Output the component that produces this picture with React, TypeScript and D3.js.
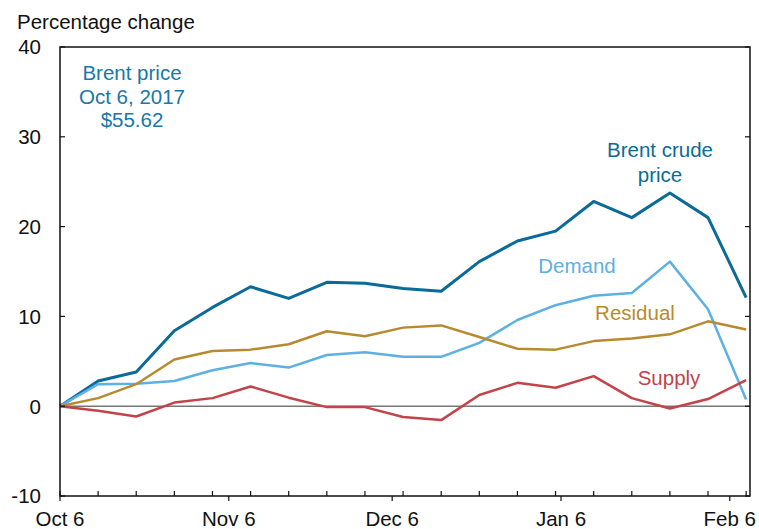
import React from 'react';
import * as d3 from 'd3';

// weekly observations starting Oct 6, 2017
const startDate = new Date(Date.UTC(2017, 9, 6));
const weeks = d3.range(19).map(i => d3.utcDay.offset(startDate, i * 7));

const brent = [0, 2.8, 3.8, 8.4, 11.0, 13.3, 12.0, 13.8, 13.7, 13.1, 12.8, 16.1, 18.4, 19.5, 22.8, 21.0, 23.75, 21.0, 12.1];
const demand = [0, 2.45, 2.5, 2.8, 4.0, 4.8, 4.3, 5.7, 6.0, 5.5, 5.5, 7.05, 9.6, 11.25, 12.3, 12.6, 16.1, 10.8, 0.75];
const residual = [0, 0.9, 2.45, 5.2, 6.15, 6.3, 6.9, 8.35, 7.8, 8.75, 9.0, 7.7, 6.4, 6.3, 7.25, 7.55, 8.0, 9.45, 8.55];
const supply = [0, -0.5, -1.15, 0.4, 0.9, 2.2, 0.95, -0.1, -0.1, -1.2, -1.55, 1.25, 2.6, 2.05, 3.35, 0.9, -0.25, 0.8, 2.9];

const yTicks = [-10, 0, 10, 20, 30, 40];
const monthTicks = [
  { date: new Date(Date.UTC(2017, 9, 6)), label: 'Oct 6' },
  { date: new Date(Date.UTC(2017, 10, 6)), label: 'Nov 6' },
  { date: new Date(Date.UTC(2017, 11, 6)), label: 'Dec 6' },
  { date: new Date(Date.UTC(2018, 0, 6)), label: 'Jan 6' },
  { date: new Date(Date.UTC(2018, 1, 6)), label: 'Feb 6' },
];

const series = [
  { name: 'Brent', values: brent, color: '#0b6b98', width: 3 },
  { name: 'Demand', values: demand, color: '#5cb0e4', width: 2.5 },
  { name: 'Residual', values: residual, color: '#b88a30', width: 2.5 },
  { name: 'Supply', values: supply, color: '#c2434a', width: 2.5 },
];

const W = 759;
const H = 529;
const margin = { top: 47, right: 9, bottom: 33, left: 60 };
const font = 'Liberation Sans, Arial, sans-serif';
const fs = 20.5;

export default function App() {
  const x = d3.scaleUtc()
    .domain([startDate, new Date(Date.UTC(2018, 1, 9, 17))])
    .range([margin.left, W - margin.right]);
  const y = d3.scaleLinear()
    .domain([-10, 40])
    .range([H - margin.bottom, margin.top]);

  const line = d3.line<number>()
    .x((_, i) => x(weeks[i]))
    .y(d => y(d));

  const x0 = margin.left;
  const x1 = W - margin.right;
  const y0 = H - margin.bottom;
  const y1 = margin.top;

  return (
    <svg width={W} height={H} style={{ position: 'absolute', left: 0, top: 0, background: '#fff' }}
      fontFamily={font} fontSize={fs}>
      <text x={17} y={29} fill="#111">Percentage change</text>

      {/* zero line */}
      <line x1={x0} x2={x1} y1={y(0)} y2={y(0)} stroke="#777" strokeWidth={1.5} />

      {series.map(s => (
        <path key={s.name} d={line(s.values) || ''} fill="none" stroke={s.color}
          strokeWidth={s.width} strokeLinejoin="round" />
      ))}

      {/* frame */}
      <rect x={x0} y={y1} width={x1 - x0} height={y0 - y1} fill="none" stroke="#111" strokeWidth={1.5} />

      {/* y ticks */}
      {yTicks.map(t => (
        <g key={t}>
          <line x1={x0} x2={x0 + 5} y1={y(t)} y2={y(t)} stroke="#111" strokeWidth={1.2} />
          <line x1={x1 - 5} x2={x1} y1={y(t)} y2={y(t)} stroke="#111" strokeWidth={1.2} />
          <text x={41} y={y(t)} dy="0.36em" textAnchor="end" fill="#111">{t}</text>
        </g>
      ))}

      {/* weekly ticks, inward */}
      {weeks.map((d, i) => (
        <line key={i} x1={x(d)} x2={x(d)} y1={y0} y2={y0 - 5} stroke="#111" strokeWidth={1.2} />
      ))}

      {/* monthly ticks, outward */}
      {monthTicks.map(m => (
        <g key={m.label}>
          <line x1={x(m.date)} x2={x(m.date)} y1={y0} y2={y0 + 5} stroke="#111" strokeWidth={1.2} />
          <text x={x(m.date)} y={526} textAnchor="middle" fill="#111">{m.label}</text>
        </g>
      ))}

      {/* annotations */}
      <g fill="#1878a8" textAnchor="middle">
        <text x={132} y={80}>Brent price</text>
        <text x={132} y={104}>Oct 6, 2017</text>
        <text x={132} y={127}>$55.62</text>
      </g>
      <g fill="#0b6b98" textAnchor="middle">
        <text x={660} y={157}>Brent crude</text>
        <text x={660} y={182}>price</text>
      </g>
      <text x={577} y={273} textAnchor="middle" fill="#5cb0e4">Demand</text>
      <text x={635} y={320} textAnchor="middle" fill="#b88a30">Residual</text>
      <text x={669} y={385} textAnchor="middle" fill="#c2434a">Supply</text>
    </svg>
  );
}
